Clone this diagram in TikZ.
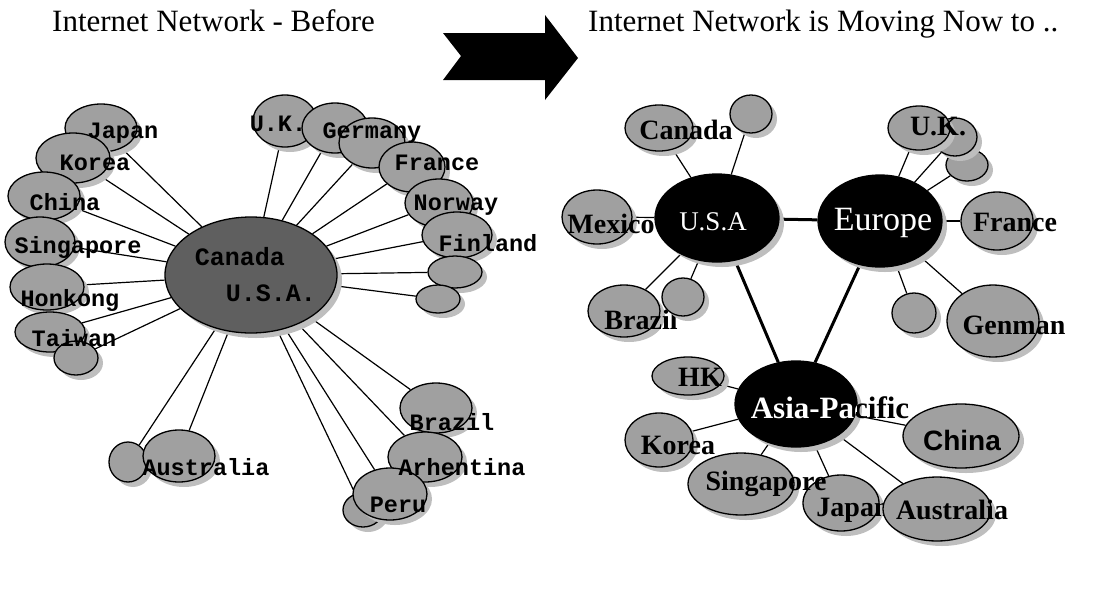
\documentclass[tikz,border=0pt]{standalone}
\usepackage{fontspec}
\usetikzlibrary{shapes.geometric,shadows,backgrounds}
\newfontfamily\monofnt{Liberation Mono}
\newfontfamily\serifnt{Liberation Serif}
\newfontfamily\sansfnt{Liberation Sans}
\definecolor{satgray}{RGB}{160,160,160}
\definecolor{hubgray}{RGB}{95,95,95}
\definecolor{shadegray}{RGB}{190,190,190}

\begin{document}
\begin{tikzpicture}[x=1pt, y=-1pt,
    sat/.style={ellipse, draw=black, line width=1.3pt, fill=satgray, inner sep=0pt,
        drop shadow={shadow xshift=5pt, shadow yshift=-5pt, fill=shadegray, opacity=1}},
    sz/.style 2 args={minimum width=#1pt, minimum height=#2pt},
    oldhub/.style={sat, fill=hubgray},
    newhub/.style={sat, fill=black},
    title/.style={font=\serifnt\fontsize{31}{33}\selectfont, inner sep=0pt},
    oldlbl/.style={font=\monofnt\bfseries\fontsize{23.5}{26}\selectfont, inner sep=0pt},
    newlbl/.style={font=\serifnt\bfseries\fontsize{28}{30}\selectfont, inner sep=0pt},
    hublbl/.style={font=\serifnt\fontsize{30}{32}\selectfont, text=white, inner sep=0pt},
    wire/.style={line width=1.2pt},
    trunk/.style={line width=3pt}]

    \useasboundingbox (0,0) rectangle (1095,611);

    % --- titulos ---
    \node[title, anchor=base west] (tbefore) at (52,31) {Internet Network - Before};
    \node[title, anchor=base west] (tnow) at (588,31) {Internet Network is Moving Now to ..};

    % --- flecha ---
    \fill (443,33) -- (545,33) -- (545,15) -- (578,58) -- (545,100)
        -- (545,80) -- (443,80) -- (461,56) -- cycle;

    % ================= red anterior =================
    \node[oldhub, sz={172}{116}] (usaold) at (251,275) {};
    \node[oldlbl, font=\monofnt\bfseries\fontsize{25}{27}\selectfont] (usaold-a) at (240,257) {Canada};
    \node[oldlbl, font=\monofnt\bfseries\fontsize{25}{27}\selectfont] (usaold-b) at (271,293) {U.S.A.};

    % --- Asia (izquierda) ---
    \node[sat, sz={72}{48}] (japan) at (101,128) {};
    \node[sat, sz={74}{50}] (korea) at (73,158) {};
    \node[sat, sz={72}{48}] (china) at (44,196) {};
    \node[sat, sz={70}{50}] (singa) at (40,242) {};
    \node[sat, sz={74}{46}] (honk) at (47,287) {};
    \node[sat, sz={70}{40}] (taiwan) at (50,332) {};
    \node[sat, sz={44}{34}] (taiwanb) at (76,358) {};
    \node[sat, sz={38}{40}] (austs) at (128,462) {};
    \node[sat, sz={72}{52}] (austb) at (179,456) {};

    % --- Europa (arriba) ---
    \node[sat, sz={64}{52}] (uk) at (285,121) {};
    \node[sat, sz={66}{50}] (germ) at (335,128) {};
    \node[sat, sz={66}{50}] (germb) at (372,143) {};
    \node[sat, sz={66}{50}] (france) at (412,167) {};
    \node[sat, sz={68}{48}] (norway) at (439,203) {};
    \node[sat, sz={70}{46}] (finland) at (457,235) {};
    \node[sat, sz={54}{32}] (euba) at (455,272) {};
    \node[sat, sz={44}{28}] (eubb) at (438,299) {};

    % --- America del Sur (abajo) ---
    \node[sat, sz={72}{50}] (brazil) at (436,408) {};
    \node[sat, sz={74}{50}] (arhen) at (425,457) {};
    \node[sat, sz={40}{34}] (perus) at (363,510) {};
    \node[sat, sz={74}{52}] (peru) at (390,494) {};

    % --- etiquetas ---
    \node[oldlbl] (japan-t) at (123,133) {Japan};
    \node[oldlbl] (korea-t) at (95,163) {Korea};
    \node[oldlbl] (china-t) at (65,202) {China};
    \node[oldlbl] (singa-t) at (78,247) {Singapore};
    \node[oldlbl] (honk-t) at (70,300) {Honkong};
    \node[oldlbl] (taiwan-t) at (74,338) {Taiwan};
    \node[oldlbl] (aust-t) at (206,467) {Australia};
    \node[oldlbl] (uk-t) at (278,124) {U.K.};
    \node[oldlbl] (germ-t) at (372,133) {Germany};
    \node[oldlbl] (france-t) at (437,163) {France};
    \node[oldlbl] (norway-t) at (456,205) {Norway};
    \node[oldlbl] (finland-t) at (488,243) {Finland};
    \node[oldlbl] (brazil-t) at (452,422) {Brazil};
    \node[oldlbl] (arhen-t) at (462,467) {Arhentina};
    \node[oldlbl] (peru-t) at (398,505) {Peru};

    % --- enlaces ---
    \begin{scope}[on background layer]
        \foreach \s in {japan,korea,china,singa,honk,taiwan,taiwanb,austs,austb,
                        uk,germ,germb,france,norway,finland,euba,eubb,
                        brazil,arhen,peru,perus}
            \draw[wire] (usaold) -- (\s);
    \end{scope}

    % ================= red nueva =================
    \node[newhub, sz={124}{88}] (usa) at (717,218) {};
    \node[newhub, sz={124}{92}] (europe) at (880,221) {};
    \node[newhub, sz={122}{86}] (asia) at (796,404) {};
    \node[hublbl, font=\serifnt\fontsize{27}{29}\selectfont] (usa-t) at (713,222) {U.S.A};
    \node[hublbl, font=\serifnt\fontsize{34}{36}\selectfont] (europe-t) at (883,223) {Europe};
    \node[hublbl, text=black, font=\serifnt\bfseries\fontsize{31}{33}\selectfont] (asia-t) at (830,408) {Asia-Pacific};
    \begin{scope}
        \clip (796,404) ellipse [x radius=61, y radius=43];
        \node[hublbl, font=\serifnt\bfseries\fontsize{31}{33}\selectfont] (asia-tw) at (830,408) {Asia-Pacific};
    \end{scope}

    % --- U.S.A ---
    \node[sat, sz={68}{46}] (canada) at (659,128) {};
    \node[newlbl] (canada-t) at (686,130) {Canada};
    \node[sat, sz={42}{38}] (usab) at (751,114) {};
    \node[sat, sz={70}{54}] (mexico) at (597,217) {};
    \node[newlbl] (mexico-t) at (611,224) {Mexico};
    \node[sat, sz={72}{52}] (brazr) at (624,311) {};
    \node[newlbl] (brazr-t) at (641,320) {Brazil};
    \node[sat, sz={42}{38}] (brazb) at (683,297) {};

    % --- Europe ---
    \node[sat, sz={42}{32}] (ukb2) at (967,165) {};
    \node[sat, sz={44}{38}] (ukb1) at (955,137) {};
    \node[sat, sz={62}{44}] (ukr) at (919,128) {};
    \node[newlbl] (ukr-t) at (938,127) {U.K.};
    \node[sat, sz={72}{58}] (francer) at (997,221) {};
    \node[newlbl] (francer-t) at (1015,222) {France};
    \node[sat, sz={44}{40}] (eub) at (914,313) {};
    \node[sat, sz={92}{72}] (genman) at (993,321) {};
    \node[newlbl] (genman-t) at (1014,325) {Genman};

    % --- Asia-Pacific ---
    \node[sat, sz={72}{38}] (hk) at (688,376) {};
    \node[newlbl] (hk-t) at (700,377) {HK};
    \node[sat, sz={68}{54}] (korear) at (659,440) {};
    \node[newlbl] (korear-t) at (678,445) {Korea};
    \node[sat, sz={116}{64}] (chinar) at (961,436) {};
    \node[newlbl, font=\sansfnt\bfseries\fontsize{28}{30}\selectfont] (chinar-t) at (962,440) {China};
    \node[sat, sz={106}{62}] (singr) at (741,484) {};
    \node[sat, sz={76}{56}] (japanr) at (841,503) {};
    \node[newlbl] (singr-t) at (766,484) {Singapore};
    \node[newlbl] (japanr-t) at (853,510) {Japan};
    \node[sat, sz={108}{64}] (australia) at (937,509) {};
    \node[newlbl] (australia-t) at (952,510) {Australia};

    % --- enlaces ---
    \begin{scope}[on background layer]
        \draw[trunk] (usa) -- (europe);
        \draw[trunk] (usa) -- (asia);
        \draw[trunk] (europe) -- (asia);
        \foreach \s in {canada,usab,mexico,brazr,brazb}
            \draw[wire] (usa) -- (\s);
        \foreach \s in {ukr,ukb1,ukb2,francer,eub,genman}
            \draw[wire] (europe) -- (\s);
        \foreach \s in {hk,korear,singr,japanr,australia,chinar}
            \draw[wire] (asia) -- (\s);
    \end{scope}

\end{tikzpicture}
\end{document}
